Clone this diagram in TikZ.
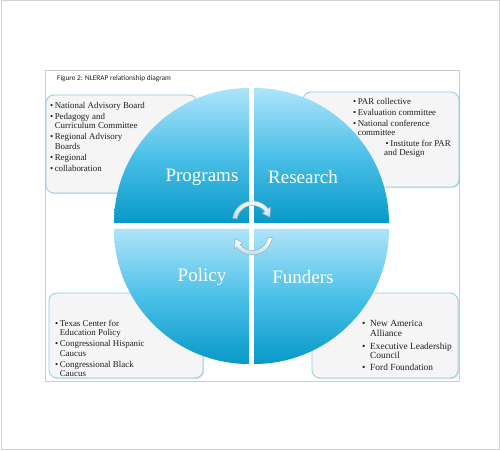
\documentclass[tikz,border=0pt]{standalone}
\usepackage{fontspec}
\setmainfont{Liberation Serif}
\newfontfamily\capfont{Carlito}
\usetikzlibrary{shadows}
\definecolor{frameline}{HTML}{D2D2D2}
\definecolor{innerline}{HTML}{CCCCCC}
\definecolor{boxline}{HTML}{94CFE0}
\definecolor{boxfill}{HTML}{F5F5F5}
\definecolor{qtop}{HTML}{AEE4FA}
\definecolor{qmid}{HTML}{4CC0E8}
\definecolor{qbot}{HTML}{0899C8}
\definecolor{arrowblue}{HTML}{BCDCE8}
\definecolor{arrowedge}{HTML}{8FB0C0}
\definecolor{bodytext}{HTML}{1E1E1E}
\newcommand{\bitem}[1]{\textbullet\,#1}
\newcommand{\bhang}{\hphantom{\textbullet\,}}
\begin{document}
\begin{tikzpicture}[x=1pt,y=1pt,
  infobox/.style={draw=boxline, line width=0.8pt, fill=boxfill, rounded corners=8pt,
    drop shadow={shadow xshift=1.2pt, shadow yshift=-1.2pt, opacity=0.25, fill=gray}},
  quad/.style={top color=qtop, bottom color=qbot, middle color=qmid},
  qlabel/.style={text=white, font=\fontsize{19}{22}\selectfont, inner sep=0pt},
  listtext/.style={text=bodytext, align=left, inner sep=0pt, anchor=north west,
    font=\fontsize{8.9}{9.4}\selectfont},
  cyclearrow/.style={top color=white, bottom color=arrowblue, draw=arrowedge, line width=0.5pt}]
% canvas and frames
\fill[white] (0,0) rectangle (500,450);
\draw[frameline, line width=1pt] (1,1) rectangle (499,449);
\draw[innerline, line width=0.8pt] (45,69) rectangle (459,380);
\node[anchor=west, inner sep=0pt, text=bodytext, font=\capfont\fontsize{7.3}{8}\selectfont] (caption) at (57,371) {Figure 2: NLERAP relationship diagram};
% boxes
\draw[infobox] (46,257) rectangle (197,355);
\draw[infobox] (303,263) rectangle (459,358);
\draw[infobox] (49,72) rectangle (203,157);
\draw[infobox] (312,72) rectangle (458,157);
% box texts
\node[listtext] (tltext) at (50,348) {\bitem{National Advisory Board}\\[1.6pt]
  \bitem{Pedagogy and}\\ \bhang Curriculum Committee\\[1.8pt]
  \bitem{Regional Advisory}\\ \bhang Boards\\[1.6pt]
  \bitem{Regional}\\[1.6pt]
  \bitem{collaboration}};
\node[listtext] (trtext) at (353,352) {\bitem{PAR collective}\\[1.6pt]
  \bitem{Evaluation committee}\\[1.6pt]
  \bitem{National conference}\\ \bhang committee};
\node[listtext] (trsub) at (384,310) {\hspace{1.5pt}\bitem{Institute for PAR}\\ and Design};
\node[listtext] (bltext) at (55,130) {\bitem{Texas Center for}\\ \bhang Education Policy\\[1.6pt]
  \bitem{Congressional Hispanic}\\ \bhang Caucus\\[1.6pt]
  \bitem{Congressional Black}\\ \bhang Caucus};
\node[listtext, font=\fontsize{9.4}{9.8}\selectfont] (brtext) at (362,129.5) {\textbullet\ \ New America\\ \hphantom{\textbullet\ \ }Alliance\\[2.6pt]
  \textbullet\ \ Executive Leadership\\ \hphantom{\textbullet\ \ }Council\\[2.2pt]
  \textbullet\ \ Ford Foundation};
% quadrants
\path[quad] (249,227) -- (114,227) arc[start angle=180, end angle=90, radius=135] -- cycle;
\path[quad] (254,227) -- (254,362) arc[start angle=90, end angle=0, radius=135] -- cycle;
\path[quad] (249,221) -- (114,221) arc[start angle=180, end angle=270, radius=135] -- cycle;
\path[quad] (254,221) -- (389,221) arc[start angle=0, end angle=-90, radius=135] -- cycle;
\node[qlabel] (programs) at (202,273) {Programs};
\node[qlabel] (research) at (303,273) {Research};
\node[qlabel] (policy) at (202,173) {Policy};
\node[qlabel] (funders) at (303,173) {Funders};
% cycle arrows
\coordinate (uc) at (252.5,229);
\coordinate (lc) at (252.5,215);
\path[cyclearrow] ([shift={(172:20)}]uc) arc[start angle=172, end angle=38, radius=20]
  -- ([shift={(38:23)}]uc) -- ([shift={(12:17.75)}]uc) -- ([shift={(38:12.5)}]uc)
  -- ([shift={(38:15.5)}]uc) arc[start angle=38, end angle=172, radius=15.5] -- cycle;
\path[cyclearrow] ([shift={(-8:20)}]lc) arc[start angle=-8, end angle=-142, radius=20]
  -- ([shift={(-142:23)}]lc) -- ([shift={(-168:17.75)}]lc) -- ([shift={(-142:12.5)}]lc)
  -- ([shift={(-142:15.5)}]lc) arc[start angle=-142, end angle=-8, radius=15.5] -- cycle;
\end{tikzpicture}
\end{document}
